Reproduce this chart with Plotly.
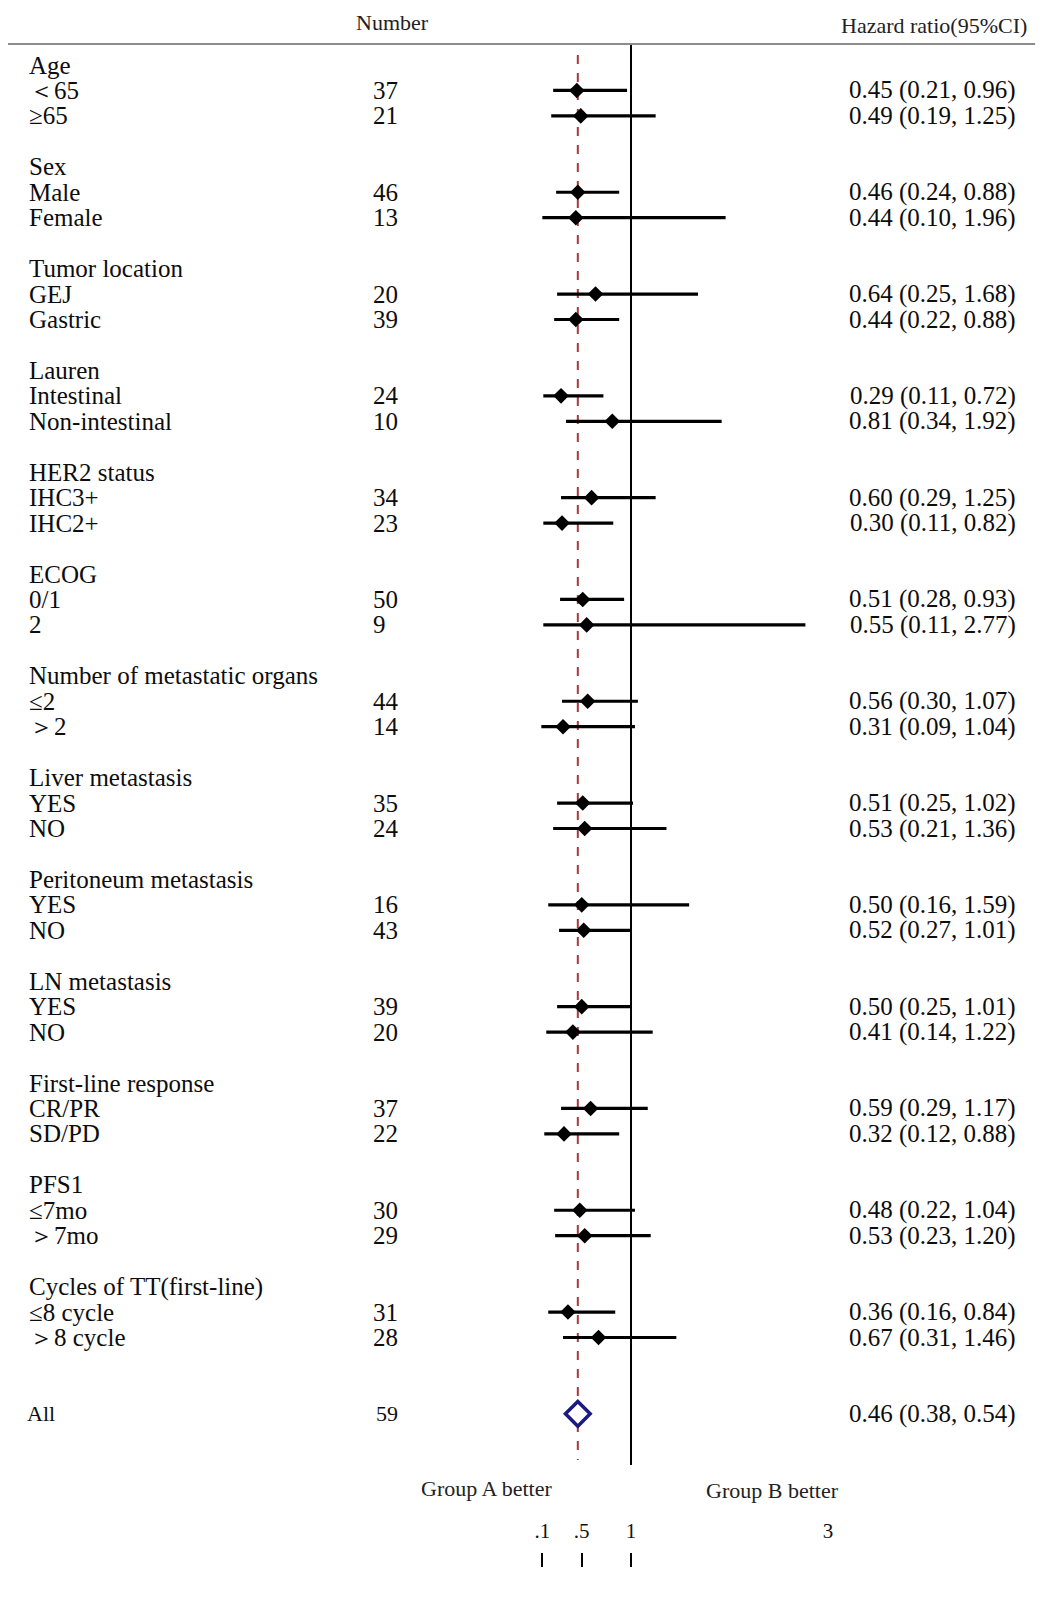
import plotly.graph_objects as go

# ---------------- data ----------------
groups = ["Age", "Sex", "Tumor location", "Lauren", "HER2 status", "ECOG",
          "Number of metastatic organs", "Liver metastasis", "Peritoneum metastasis",
          "LN metastasis", "First-line response", "PFS1", "Cycles of TT(first-line)"]
subgroups = [["＜65", "≥65"], ["Male", "Female"], ["GEJ", "Gastric"],
             ["Intestinal", "Non-intestinal"], ["IHC3+", "IHC2+"], ["0/1", "2"],
             ["≤2", "＞2"], ["YES", "NO"], ["YES", "NO"], ["YES", "NO"],
             ["CR/PR", "SD/PD"], ["≤7mo", "＞7mo"], ["≤8 cycle", "＞8 cycle"]]
numbers = [[37, 21], [46, 13], [20, 39], [24, 10], [34, 23], [50, 9], [44, 14],
           [35, 24], [16, 43], [39, 20], [37, 22], [30, 29], [31, 28]]
hr = [[0.45, 0.49], [0.46, 0.44], [0.64, 0.44], [0.29, 0.81], [0.60, 0.30],
      [0.51, 0.55], [0.56, 0.31], [0.51, 0.53], [0.50, 0.52], [0.50, 0.41],
      [0.59, 0.32], [0.48, 0.53], [0.36, 0.67]]
ci_low = [[0.21, 0.19], [0.24, 0.10], [0.25, 0.22], [0.11, 0.34], [0.29, 0.11],
          [0.28, 0.11], [0.30, 0.09], [0.25, 0.21], [0.16, 0.27], [0.25, 0.14],
          [0.29, 0.12], [0.22, 0.23], [0.16, 0.31]]
ci_high = [[0.96, 1.25], [0.88, 1.96], [1.68, 0.88], [0.72, 1.92], [1.25, 0.82],
           [0.93, 2.77], [1.07, 1.04], [1.02, 1.36], [1.59, 1.01], [1.01, 1.22],
           [1.17, 0.88], [1.04, 1.20], [0.84, 1.46]]
overall_label = "All"
overall_n = 59
overall_hr = 0.46
overall_low = 0.38
overall_high = 0.54
xtick_vals = [0.1, 0.5, 1, 3]
xtick_text = [".1", ".5", "1", "3"]

# ---------------- layout helpers ----------------
W, H = 1061, 1602
ROW0, ROWH = 65.0, 25.45           # pixel y of row 0 and row pitch
def row_of(px):
    return (px - ROW0) / ROWH
def px_x(px):
    return px / W

FONT = "Liberation Serif"
BODY = 25
TXT = "#0d0d0d"

rows_y, xs_lo, xs_hi, xs_hr = [], [], [], []
annotations = []
def add_text(text, x, y, anchor, size=BODY, yref="y", color=TXT):
    annotations.append(dict(text=text, x=x, y=y, xref="paper", yref=yref,
                            xanchor=anchor, yanchor="middle", showarrow=False,
                            font=dict(family=FONT, size=size, color=color)))

for g, name in enumerate(groups):
    r0 = 4 * g
    add_text(name, px_x(27), r0, "left")
    for k in range(2):
        r = r0 + 1 + k
        rows_y.append(r)
        xs_lo.append(ci_low[g][k]); xs_hi.append(ci_high[g][k]); xs_hr.append(hr[g][k])
        add_text(subgroups[g][k], px_x(27), r, "left")
        add_text(str(numbers[g][k]), px_x(373), r, "left")
        add_text(f"{hr[g][k]:.2f} ({ci_low[g][k]:.2f}, {ci_high[g][k]:.2f})",
                 px_x(1023), r, "right")

ROW_ALL = 4 * len(groups) + 1
add_text(overall_label, px_x(25), ROW_ALL, "left", size=22)
add_text(str(overall_n), px_x(376), ROW_ALL, "left", size=22)
add_text(f"{overall_hr:.2f} ({overall_low:.2f}, {overall_high:.2f})",
         px_x(1023), ROW_ALL, "right")
add_text("Number", px_x(394), 1 - 22 / H, "center", size=22, yref="paper", color="#222")
add_text("Hazard ratio(95%CI)", px_x(1034), 1 - 25 / H, "right", size=22, yref="paper", color="#222")
add_text("Group A better", px_x(489), 1 - 1488 / H, "center", size=22, yref="paper", color="#222")
add_text("Group B better", px_x(776), 1 - 1490 / H, "center", size=22, yref="paper", color="#222")

# CI segments
seg_x, seg_y = [], []
for r, a, b in zip(rows_y, xs_lo, xs_hi):
    seg_x += [a, b, None]
    seg_y += [r, r, None]

fig = go.Figure()
fig.add_trace(go.Scatter(x=seg_x, y=seg_y, mode="lines",
                         line=dict(color="black", width=3.2), hoverinfo="skip",
                         showlegend=False, cliponaxis=False))
fig.add_trace(go.Scatter(x=xs_hr, y=rows_y, mode="markers",
                         marker=dict(symbol="diamond", size=12, color="black"),
                         showlegend=False, cliponaxis=False))
fig.add_trace(go.Scatter(x=[overall_hr], y=[ROW_ALL], mode="markers",
                         marker=dict(symbol="diamond", size=19, color="white",
                                     line=dict(color="#1a1a80", width=3.5)),
                         showlegend=False, cliponaxis=False))

shapes = [
    # top rule
    dict(type="line", xref="paper", yref="y", x0=px_x(8), x1=px_x(1040),
         y0=row_of(44), y1=row_of(44), line=dict(color="#8c8c8c", width=2)),
    # null line at HR = 1
    dict(type="line", xref="x", yref="y", x0=1, x1=1, y0=row_of(44), y1=row_of(1465),
         line=dict(color="black", width=2), layer="below"),
    # overall effect dashed line
    dict(type="line", xref="x", yref="y", x0=overall_hr, x1=overall_hr,
         y0=row_of(55), y1=row_of(1460),
         line=dict(color="#a8383a", width=2, dash="dash"), layer="below"),
]

fig.update_layout(
    autosize=True,
    margin=dict(l=0, r=0, t=0, b=0),
    paper_bgcolor="white", plot_bgcolor="white",
    showlegend=False,
    annotations=annotations,
    shapes=shapes,
    xaxis=dict(domain=[535 / W, 832 / W], range=[0, 3],
               side="top", anchor="free", position=1 - 1552 / H,
               tickvals=xtick_vals, ticktext=xtick_text,
               ticks="inside", ticklen=14, tickwidth=1.5, tickcolor="black",
               ticklabelstandoff=10,
               tickfont=dict(family=FONT, size=21, color="#111"),
               showgrid=False, zeroline=False, showline=False, fixedrange=True),
    yaxis=dict(domain=[0, 1], range=[row_of(H), row_of(0)], visible=False,
               showgrid=False, zeroline=False, fixedrange=True),
)

post = ("document.documentElement.style.margin='0';"
        "document.documentElement.style.overflow='hidden';"
        "document.body.style.margin='0';document.body.style.overflow='hidden';"
        "var gd=document.getElementById('{plot_id}');"
        "gd.style.width='100vw';gd.style.height='100vh';"
        "Plotly.Plots.resize(gd);")

fig.write_html("out.html",
               config={"displayModeBar": False, "responsive": True},
               default_width="100vw", default_height="100vh",
               post_script=post)
